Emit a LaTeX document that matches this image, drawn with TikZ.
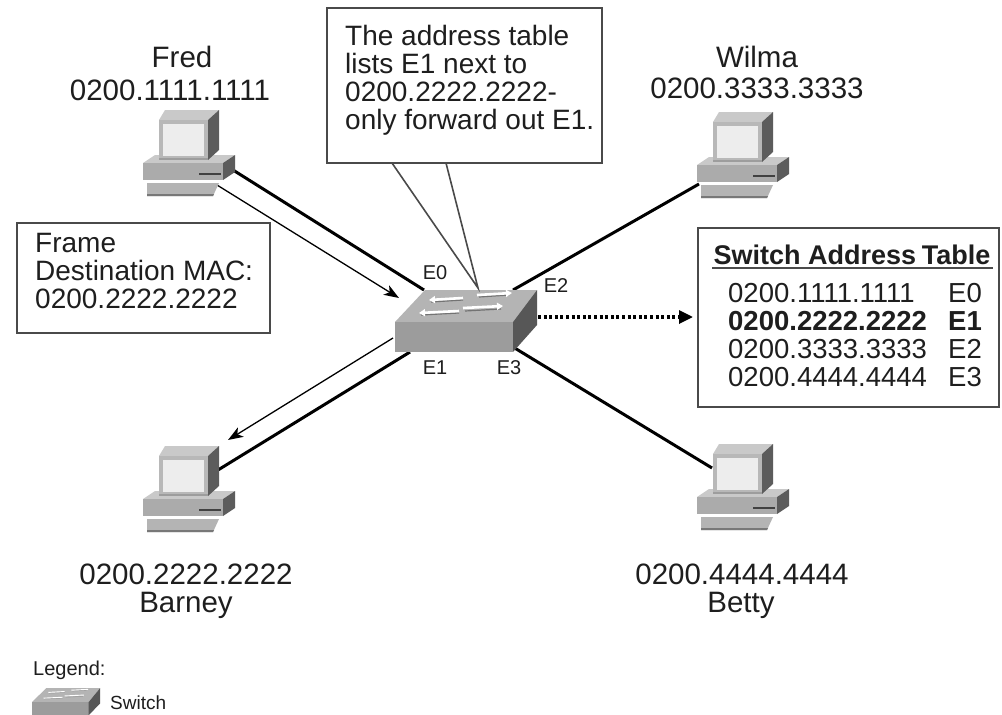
\documentclass[tikz,border=0pt]{standalone}
\usepackage{fontspec}
\setmainfont{Liberation Sans}
\usetikzlibrary{arrows.meta}
\definecolor{ink}{HTML}{1E1E1E}
\definecolor{boxline}{HTML}{4A4A4A}
\definecolor{pclight}{HTML}{C9C9C9}
\definecolor{pcmid}{HTML}{ABABAB}
\definecolor{pcdark}{HTML}{5C5C5C}
\definecolor{pcscreen}{HTML}{EDEDED}
\definecolor{swtopc}{HTML}{B4B4B4}
\definecolor{swfrontc}{HTML}{9C9C9C}
\definecolor{swsidec}{HTML}{575757}
\tikzset{
  lbl/.style={font=\fontsize{29.5}{29.5}\selectfont, text=ink, inner sep=0pt},
  boxtxt/.style={font=\fontsize{28}{28}\selectfont, text=ink, inner sep=0pt, align=left},
  portlbl/.style={font=\fontsize{20}{20}\selectfont, text=ink, inner sep=0pt},
  tbl/.style={font=\fontsize{27.5}{27.5}\selectfont, text=ink, inner sep=0pt, anchor=west},
  framebox/.style={draw=boxline, line width=2pt, fill=white, inner sep=0pt},
  link/.style={draw=black, line width=3pt},
  flow/.style={draw=black, line width=1.3pt, -{Stealth[length=15pt,width=11pt,inset=4pt]}},
  pointer/.style={draw=boxline, line width=1.6pt},
  swarrow/.style={draw=white, line width=2.6pt, -{Triangle[length=6pt,width=7pt]}},
  swshadow/.style={draw=black!55, line width=1.2pt},
  pc/.pic={
    % base unit
    \fill[pclight] (0,53) -- (80,53) -- (92,45) -- (12,45) -- cycle;
    \fill[pcmid] (0,53) rectangle (80,70);
    \fill[pcdark] (80,53) -- (92,45) -- (92,62) -- (80,70) -- cycle;
    \draw[pcdark!70!black, line width=2pt] (56,64) -- (78,64);
    % monitor
    \fill[pclight] (16,10) -- (65,10) -- (76,0) -- (22,0) -- cycle;
    \fill[pcdark] (65,10) -- (76,0) -- (76,40) -- (65,50) -- cycle;
    \fill[pcmid!85!white] (16,10) rectangle (65,50);
    \fill[pcscreen] (20,14) rectangle (61,46);
    \fill[pcdark!60] (16,48) rectangle (65,50);
    % keyboard
    \fill[pcmid!90!white] (4,73) -- (76,73) -- (70,86) -- (4,86) -- cycle;
    \fill[pcmid!70!black] (4,84) -- (71,84) -- (70,86) -- (4,86) -- cycle;
  },
  switchicon/.pic={
    \fill[swtopc] (0,32) -- (118,32) -- (142,0) -- (30,0) -- cycle;
    \fill[swfrontc] (0,32) rectangle (118,62);
    \fill[swsidec] (118,32) -- (142,0) -- (142,35) -- (118,62) -- cycle;
    % forwarding arrows on the top face
    \draw[swshadow] (36,12) -- (68,10);
    \draw[swshadow] (84,7) -- (114,5);
    \draw[swshadow] (26,25) -- (64,23);
    \draw[swshadow] (70,21) -- (106,19);
    \draw[swarrow] (68,8) -- (34,10);
    \draw[swarrow] (82,5) -- (117,3);
    \draw[swarrow] (64,21) -- (24,23);
    \draw[swarrow] (68,18) -- (108,16);
  }
}
\begin{document}
\begin{tikzpicture}[x=1pt,y=-1pt]
\useasboundingbox[fill=white] (0,0) rectangle (1002,715);

% connection points
\coordinate (fredport) at (233,170);
\coordinate (fredtx) at (217,185);
\coordinate (swE0) at (424,290);
\coordinate (swin) at (399,298);
\coordinate (swE2) at (513,290);
\coordinate (wilmaport) at (699,184);
\coordinate (swE3) at (513,347);
\coordinate (bettyport) at (712,468);
\coordinate (swE1) at (410,352);
\coordinate (barneyport) at (218,470);
\coordinate (swout) at (393,338);
\coordinate (barneyrx) at (228,440);
\coordinate (swright) at (538,317);
\coordinate (tablein) at (693,317);

% cabling
\draw[link] (fredport) -- (swE0);
\draw[link] (swE2) -- (wilmaport);
\draw[link] (swE3) -- (bettyport);
\draw[link] (swE1) -- (barneyport);

% frame path
\draw[flow] (fredtx) -- (swin);
\draw[flow] (swout) -- (barneyrx);
\draw[line width=3.2pt, dash pattern=on 3pt off 2.6pt, -{Triangle[length=14pt,width=13pt]}] (swright) -- (tablein);

% hosts
\pic (fredpc) at (143,110) {pc};
\pic (wilmapc) at (697,112) {pc};
\pic (barneypc) at (143,446) {pc};
\pic (bettypc) at (697,444) {pc};

% switch
\pic (sw) at (395,290) {switchicon};

% host labels
\node[lbl] (fredname) at (182,57) {Fred};
\node[lbl] (fredmac) at (170,90) {0200.1111.1111};
\node[lbl] (wilmaname) at (757,57) {Wilma};
\node[lbl] (wilmamac) at (757,88) {0200.3333.3333};
\node[lbl] (barneymac) at (186,574) {0200.2222.2222};
\node[lbl] (barneyname) at (186,605) {Barney};
\node[lbl] (bettymac) at (742,574) {0200.4444.4444};
\node[lbl] (bettyname) at (741,605) {Betty};

% port labels
\node[portlbl] (pE0) at (435,273) {E0};
\node[portlbl] (pE2) at (556,286) {E2};
\node[portlbl] (pE1) at (435,368) {E1};
\node[portlbl] (pE3) at (509,368) {E3};

% callout
\node[framebox, minimum width=275pt, minimum height=155pt] (note) at (464.5,85.5) {};
\coordinate (callA) at (392,163);
\coordinate (callB) at (446,163);
\coordinate (calltip) at (478,288);
\draw[pointer] (callA) -- (calltip) -- (callB);
\node[boxtxt, anchor=north west, text depth=0pt] (notetext) at (345,25)
  {\baselineskip=27pt The address table\\lists E1 next to\\0200.2222.2222-\\only forward out E1.};

% frame box
\node[framebox, minimum width=253pt, minimum height=110pt] (framebx) at (143.5,278) {};
\node[boxtxt, anchor=north west] (frametext) at (35,233)
  {\baselineskip=27.5pt Frame\\Destination MAC:\\0200.2222.2222};

% address table
\node[framebox, minimum width=301pt, minimum height=179pt] (table) at (848.5,317.5) {};
\node[tbl, anchor=center, font=\fontsize{27}{27}\selectfont\bfseries] (ttitle) at (852,255) {Switch Address\kern-2pt\ Table};
\draw[draw=ink!80, line width=1.5pt] (712,268) -- (993,268);
\node[tbl] (a1) at (728,293) {0200.1111.1111};
\node[tbl] (e1) at (948,293) {E0};
\node[tbl, font=\fontsize{27.5}{27.5}\selectfont\bfseries] (a2) at (728,321) {0200.2222.2222};
\node[tbl, font=\fontsize{27.5}{27.5}\selectfont\bfseries] (e2) at (948,321) {E1};
\node[tbl] (a3) at (728,349) {0200.3333.3333};
\node[tbl] (e3) at (948,349) {E2};
\node[tbl] (a4) at (728,377) {0200.4444.4444};
\node[tbl] (e4) at (948,377) {E3};

% legend
\node[font=\fontsize{20}{20}\selectfont, text=ink, inner sep=0pt, anchor=west] (legendtitle) at (33,670) {Legend:};
\begin{scope}[swarrow/.style={draw=white, line width=0.9pt}, swshadow/.style={draw=black!40, line width=0.5pt}]
\pic[xscale=0.48, yscale=0.44] (legendsw) at (32,688) {switchicon};
\end{scope}
\node[font=\fontsize{19}{19}\selectfont, text=ink, inner sep=0pt, anchor=west] (legendlbl) at (110,703) {Switch};
\end{tikzpicture}
\end{document}
